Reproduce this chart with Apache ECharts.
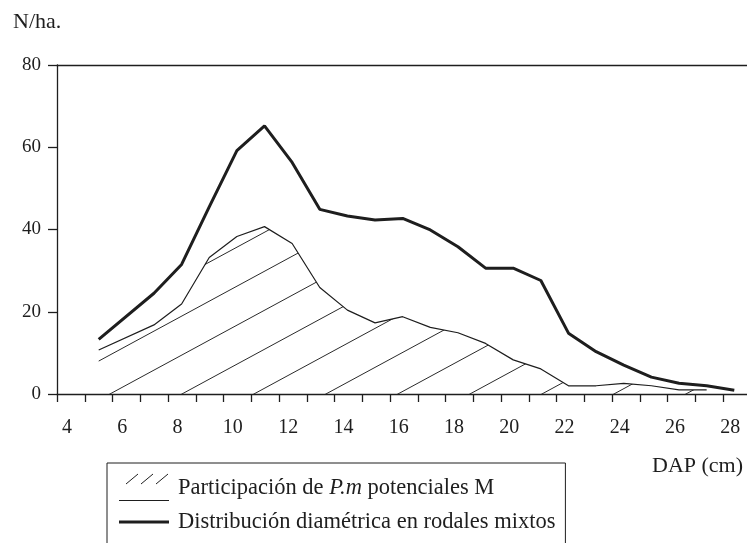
<!DOCTYPE html>
<html>
<head>
<meta charset="utf-8">
<title>Distribución diamétrica</title>
<script src="https://cdn.jsdelivr.net/npm/echarts@6/dist/echarts.min.js"></script>
<style>
html,body{margin:0;padding:0;background:#fff;}
#main{width:747px;height:543px;}
</style>
</head>
<body>
<div id="main"></div>
<script>
// clases diamétricas (cm)
const dap = [5,7,8,9,10,11,12,13,14,15,16,17,18,19,20,21,22,23,24,25,26,27,28];
// N/ha, distribución diamétrica en rodales mixtos
const mixtos = [13.3,24.5,31.5,45.5,59.2,65.2,56.3,44.9,43.3,42.3,42.7,39.9,35.8,30.6,30.6,27.6,14.8,10.3,7.0,4.1,2.6,2.0,0.9];
// N/ha, participación de P.m potenciales M (llega hasta 27 cm)
const pm = [10.7,16.8,21.9,33.2,38.3,40.7,36.6,25.9,20.4,17.3,18.8,16.2,14.9,12.3,8.3,6.1,2.0,2.0,2.6,2.0,1.0,1.0];
const xLabels = [4,6,8,10,12,14,16,18,20,22,24,26,28];

const FONT = "'Liberation Serif', 'DejaVu Serif', serif";
const INK = '#1e1e1e';
const nameMixtos = 'Distribución diamétrica en rodales mixtos';
const namePm = 'Participación de P.m potenciales M';

// tramado /// bajo la curva de P.m
function hatchTile(){
    let c = document.createElement('canvas');
    c.width = 72; c.height = 39;
    let ctx = c.getContext('2d');
    ctx.strokeStyle = '#2a2a2a';
    ctx.lineWidth = 1;
    [-14.47, 24.53, 63.53].forEach(k => {
        ctx.beginPath(); ctx.moveTo(0, k); ctx.lineTo(72, k - 39); ctx.stroke();
    });
    return c;
}

function legendIcon(hatch){
    let c = document.createElement('canvas');
    c.width = 54; c.height = 30;
    let ctx = c.getContext('2d');
    ctx.strokeStyle = INK;
    if (hatch) {
        ctx.lineWidth = 1;
        for (let i = 0; i < 3; i++) {
            ctx.beginPath(); ctx.moveTo(7 + i * 15, 11); ctx.lineTo(19 + i * 15, 1); ctx.stroke();
        }
        ctx.beginPath(); ctx.moveTo(0, 27.5); ctx.lineTo(50, 27.5); ctx.stroke();
    } else {
        ctx.lineWidth = 3;
        ctx.beginPath(); ctx.moveTo(0, 15); ctx.lineTo(50, 15); ctx.stroke();
    }
    return 'image://' + c.toDataURL();
}

// marcas del eje x (entre las etiquetas, como en el original)
let xTicks = [];
for (let k = 0; k < 25; k++) xTicks.push(3.491 + k * 1.0043);

const chart = echarts.init(document.getElementById('main'), null, {renderer: 'canvas'});
chart.setOption({
    animation: false,
    backgroundColor: '#fff',
    title: [
        {text: 'N/ha.', left: 8, top: 6, textStyle: {fontFamily: FONT, fontSize: 22, fontWeight: 'normal', color: INK}},
        {text: 'DAP (cm)', left: 647, top: 450, textStyle: {fontFamily: FONT, fontSize: 22, fontWeight: 'normal', color: INK}}
    ],
    grid: {left: 57, right: 0, top: 65, bottom: 149, outerBoundsMode: 'none'},
    legend: {
        orient: 'vertical',
        left: 107, top: 463, height: 160,
        padding: [10, 10, 40, 12],
        borderColor: INK, borderWidth: 1,
        itemWidth: 54, itemHeight: 30, itemGap: 4,
        selectedMode: false,
        data: [
            {name: namePm, icon: legendIcon(true)},
            {name: nameMixtos, icon: legendIcon(false)}
        ],
        formatter: function(name){
            return name === namePm ? 'Participación de {i|P.m} potenciales M' : name;
        },
        textStyle: {
            fontFamily: FONT, fontSize: 22.5, color: INK,
            rich: {i: {fontFamily: FONT, fontSize: 22.5, fontStyle: 'italic', color: INK}}
        }
    },
    xAxis: [{
        type: 'value', min: 3.491, max: 28.46,
        splitLine: {show: false},
        axisLine: {lineStyle: {color: INK, width: 1.3}},
        axisTick: {show: true, length: 8, customValues: xTicks, lineStyle: {color: INK, width: 1.3}},
        axisLabel: {customValues: xLabels, margin: 24, padding: [0, 8, 0, 0], fontFamily: FONT, fontSize: 20, color: INK}
    }, {
        type: 'value', position: 'top', min: 3.491, max: 28.46,
        splitLine: {show: false},
        axisLine: {show: true, lineStyle: {color: INK, width: 1.3}},
        axisTick: {show: false},
        axisLabel: {show: false}
    }],
    yAxis: {
        type: 'value', min: 0, max: 80, interval: 20,
        splitLine: {show: false},
        axisLine: {show: true, lineStyle: {color: INK, width: 1.3}},
        axisTick: {show: true, length: 9, lineStyle: {color: INK, width: 1.3}},
        axisLabel: {margin: 16, fontFamily: FONT, fontSize: 19, color: INK}
    },
    series: [{
        name: namePm,
        type: 'line',
        data: pm.map((v, i) => [dap[i], v]),
        showSymbol: false,
        symbol: 'none',
        lineStyle: {color: INK, width: 1.2},
        areaStyle: {color: {image: hatchTile(), repeat: 'repeat'}, opacity: 1},
        z: 2
    }, {
        name: nameMixtos,
        type: 'line',
        data: mixtos.map((v, i) => [dap[i], v]),
        showSymbol: false,
        symbol: 'none',
        lineStyle: {color: INK, width: 3},
        z: 3
    }]
});
</script>
</body>
</html>
